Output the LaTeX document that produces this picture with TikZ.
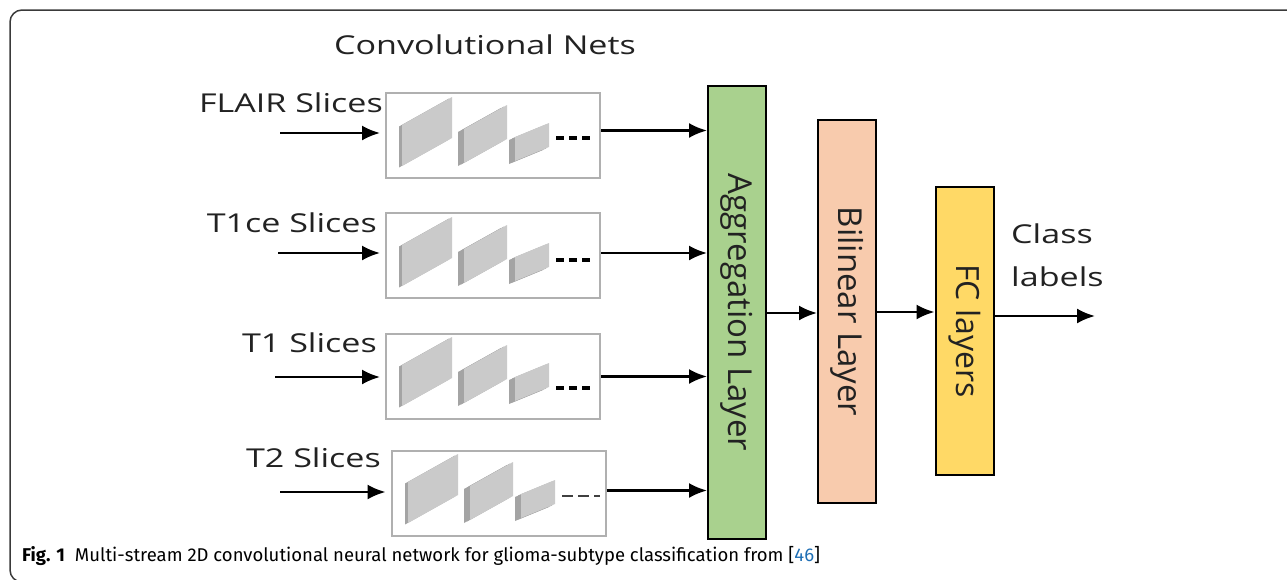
\documentclass[tikz,border=0pt]{standalone}
\usepackage{graphicx}
\usepackage{fontspec}
\setmainfont{Open Sans}
\newfontfamily\capfont{Fira Sans}
\usetikzlibrary{arrows.meta,calc}
\definecolor{aggg}{HTML}{A9D18E}
\definecolor{bilc}{HTML}{F8CBAD}
\definecolor{fcc}{HTML}{FFD966}
\definecolor{framec}{HTML}{3A3A3A}
\definecolor{boxc}{HTML}{B0B0B0}
\definecolor{slabf}{HTML}{CACACA}
\definecolor{slabs}{HTML}{A4A4A4}
\definecolor{refblue}{HTML}{1F6FB5}
\definecolor{txtc}{HTML}{222222}
\newcommand{\hs}[1]{\scalebox{1.31}[1]{#1}}
\tikzset{
  arr/.style={line width=2.3pt,-{Latex[length=18pt,width=15pt]}},
  convbox/.style={draw=boxc,line width=2pt,minimum width=214pt,minimum height=85pt,inner sep=0pt},
  layerbox/.style={draw=black,line width=2pt,rotate=-90,inner sep=0pt,minimum height=58pt,text=txtc},
  lbl/.style={font=\fontsize{26}{30}\selectfont,inner sep=0pt,text=txtc},
}
% slab: x, bottom-left y, width, height, rise, layers
\newcommand{\myslab}[6]{%
  \foreach \k in {#6,...,0}{%
    \pgfmathsetmacro{\dx}{-3*\k}%
    \pgfmathsetmacro{\dy}{1.5*\k}%
    \ifnum\k=0 \def\fc{slabf}\else\def\fc{slabs}\fi
    \fill[\fc] ({#1+\dx},{#2+\dy}) -- ({#1+#3+\dx},{#2-#5+\dy}) -- ({#1+#3+\dx},{#2-#5-#4+\dy}) -- ({#1+\dx},{#2-#4+\dy}) -- cycle;
  }%
}
\newcommand{\mymaps}[4]{% box left x, box top y, dash y (rel), dash style
  \myslab{#1+16}{#2+73}{50}{41}{28}{1}
  \myslab{#1+78}{#2+70}{43}{34}{24}{2}
  \myslab{#1+129}{#2+68}{34}{24}{14}{2}
  \draw[#4] (#1+170,#2+#3) -- (#1+208,#2+#3);
}
\begin{document}
\begin{tikzpicture}[x=1pt,y=-1pt]
\useasboundingbox (0,0) rectangle (1287,579);
% outer frame
\draw[framec,line width=1.5pt,rounded corners=12pt] (1300,10) -- (10,10) -- (10,582) -- (40,582);
\node[lbl] (title) at (485,45) {\hs{Convolutional Nets}};
% conv boxes
\node[convbox] (b1) at (493,135.5) {};
\node[convbox] (b2) at (493,255) {};
\node[convbox] (b3) at (493,376.5) {};
\node[convbox] (b4) at (498.5,493.5) {};
\mymaps{386}{93}{45}{line width=4pt,dash pattern=on 8pt off 5pt}
\mymaps{386}{213}{47}{line width=4pt,dash pattern=on 8pt off 5pt}
\mymaps{386}{333}{55}{line width=4pt,dash pattern=on 8pt off 5pt}
\mymaps{392}{450}{46}{line width=2pt,draw=black!75,dash pattern=on 11pt off 5pt}
% input labels
\node[lbl,anchor=east] (l1) at (383,103) {\hs{FLAIR Slices}};
\node[lbl,anchor=east] (l2) at (377,223) {\hs{T1ce Slices}};
\node[lbl,anchor=east] (l3) at (377,343) {\hs{T1 Slices}};
\node[lbl,anchor=east] (l4) at (381,458) {\hs{T2 Slices}};
\coordinate (i1) at (280,133);
\coordinate (i2) at (278,253);
\coordinate (i3) at (275,377);
\coordinate (i4) at (280,492);
\draw[arr] (i1) -- ($(i1 -| b1.west)+(-5,0)$);
\draw[arr] (i2) -- ($(i2 -| b2.west)+(-5,0)$);
\draw[arr] (i3) -- ($(i3 -| b3.west)+(-5,0)$);
\draw[arr] (i4) -- ($(i4 -| b4.west)+(-5,0)$);
% layers
\node[layerbox,fill=aggg,minimum width=453pt,font=\fontsize{33}{36}\selectfont] (agg) at (737,312.5) {Aggregation Layer};
\node[layerbox,fill=bilc,minimum width=383pt,font=\fontsize{33}{36}\selectfont] (bil) at (847,311.5) {Bilinear Layer};
\node[layerbox,fill=fcc,minimum width=288pt,font=\fontsize{32}{36}\selectfont] (fc) at (964.5,331) {FC layers};
% outputs of conv boxes
\draw[arr] ($(b1.east)+(0,-5)$) -- ($(b1.east -| agg.south)+(0,-5)$);
\draw[arr] ($(b2.east)+(0,-2)$) -- ($(b2.east -| agg.south)+(0,-2)$);
\draw[arr] (b3.east) -- (b3.east -| agg.south);
\draw[arr] ($(b4.east)+(0,-3)$) -- ($(b4.east -| agg.south)+(0,-3)$);
\coordinate (m1) at (766,313);
\draw[arr] (m1) -- (m1 -| bil.south);
\coordinate (m2) at (876,312);
\draw[arr] (m2) -- (m2 -| fc.south);
\coordinate (m3) at (993,316);
\coordinate (out) at (1095,316);
\draw[arr] (m3) -- (out);
\node[lbl,align=left,anchor=west,font=\fontsize{26}{43}\selectfont] (cls) at (1011,255) {\hs{Class}\\\hs{labels}};
% caption
\node[anchor=west,inner sep=0pt,font=\capfont\fontsize{18.5}{22}\selectfont] (cap) at (22,556) {\textbf{Fig. 1}\hspace{10pt}Multi-stream 2D convolutional neural network for glioma-subtype classification from [\textcolor{refblue}{46}]};
\end{tikzpicture}
\end{document}
